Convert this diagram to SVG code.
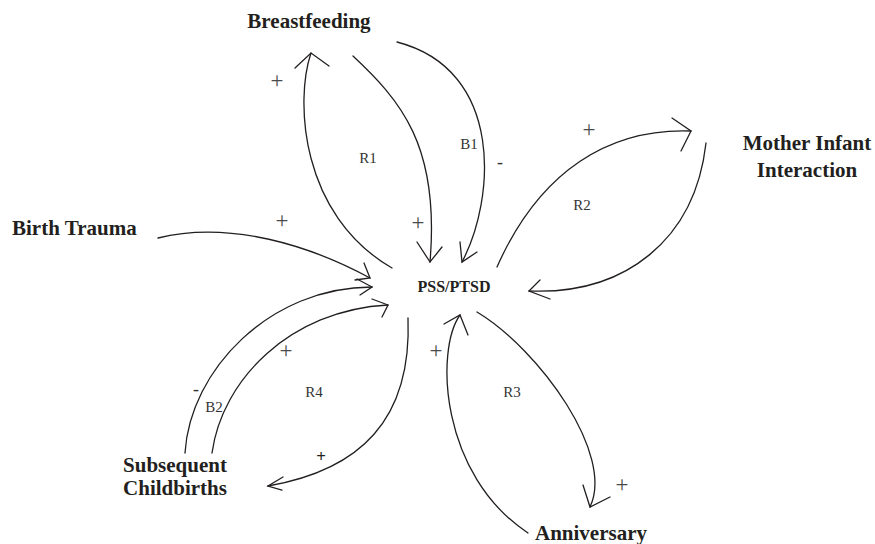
<svg xmlns="http://www.w3.org/2000/svg" width="875" height="544" viewBox="0 0 875 544">
<style>
.link{fill:none;stroke:#231f20;stroke-width:1.3;stroke-linecap:round}
.head{fill:none;stroke:#231f20;stroke-width:1.3;stroke-linecap:round;stroke-linejoin:miter}
.node{font-family:"Liberation Serif","Times New Roman",serif;font-weight:bold;font-size:21px;fill:#231f20}
.core{font-family:"Liberation Serif","Times New Roman",serif;font-weight:bold;font-size:16px;fill:#231f20}
.loop{font-family:"Liberation Serif","Times New Roman",serif;font-size:15px;fill:#333}
.pol{font-family:"Liberation Serif","Times New Roman",serif;font-size:23px;fill:#4a4a4a}
.neg{font-family:"Liberation Serif","Times New Roman",serif;font-size:18px;fill:#333}
</style>
<rect width="875" height="544" fill="#fff"/>
<g id="connectors">
  <path class="link" d="M353,56 C400,100 440,145 430,262"/>
  <polyline class="head" points="417,242 430,262 442,247"/>
  <path class="link" d="M392,268 C300,215 295,100 311,53"/>
  <polyline class="head" points="295,68 311,53 329,66"/>
  <path class="link" d="M397,42 C505,70 495,200 462,262"/>
  <polyline class="head" points="460,242 462,262 477,252"/>
  <path class="link" d="M497,267 C540,170 610,128 691,131"/>
  <polyline class="head" points="672,118 691,131 681,151"/>
  <path class="link" d="M706,143 C695,240 625,295 529,291"/>
  <polyline class="head" points="540,280 529,291 550,299"/>
  <path class="link" d="M158,238 C230,220 311,246 370,278"/>
  <polyline class="head" points="364,263 370,278 355,280"/>
  <path class="link" d="M185,453 C190,370 270,287 372,287"/>
  <polyline class="head" points="357,279 372,287 360,295"/>
  <path class="link" d="M212,453 C222,380 290,310 388,305"/>
  <polyline class="head" points="372,299 388,305 382,317"/>
  <path class="link" d="M408,318 C412,420 360,470 268,486"/>
  <polyline class="head" points="283,477 268,486 282,490"/>
  <path class="link" d="M477,312 C540,350 615,455 590,507"/>
  <polyline class="head" points="583,485 590,507 610,497"/>
  <path class="link" d="M528,533 C440,475 435,350 460,315"/>
  <polyline class="head" points="444,324 460,315 468,335"/>
</g>
<g id="labels">
  <text class="pol" x="277" y="88" text-anchor="middle">+</text>
  <text class="pol" x="418" y="230" text-anchor="middle">+</text>
  <text class="pol" x="282" y="228" text-anchor="middle">+</text>
  <text class="pol" x="589" y="137" text-anchor="middle">+</text>
  <text class="pol" x="436" y="358" text-anchor="middle">+</text>
  <text class="pol" x="622" y="492" text-anchor="middle">+</text>
  <text class="pol" x="286" y="358" text-anchor="middle">+</text>
  <text class="pol" x="321" y="462" text-anchor="middle" style="font-size:17px;font-weight:bold;fill:#231f20">+</text>
  <text class="neg" x="500" y="168" text-anchor="middle">-</text>
  <text class="neg" x="196" y="395" text-anchor="middle">-</text>
  <text class="loop" x="368" y="163" text-anchor="middle">R1</text>
  <text class="loop" x="469" y="149" text-anchor="middle">B1</text>
  <text class="loop" x="582" y="210" text-anchor="middle">R2</text>
  <text class="loop" x="512" y="397" text-anchor="middle">R3</text>
  <text class="loop" x="314" y="397" text-anchor="middle">R4</text>
  <text class="loop" x="214" y="412" text-anchor="middle">B2</text>
</g>
<g id="node-breastfeeding"><text class="node" x="309" y="28" text-anchor="middle">Breastfeeding</text></g>
<g id="node-birth-trauma"><text class="node" x="12" y="235">Birth Trauma</text></g>
<g id="node-mother-infant"><text class="node" x="807" y="150" text-anchor="middle">Mother Infant</text><text class="node" x="807" y="177" text-anchor="middle">Interaction</text></g>
<g id="node-subsequent"><text class="node" x="175" y="472" text-anchor="middle">Subsequent</text><text class="node" x="175" y="495" text-anchor="middle">Childbirths</text></g>
<g id="node-anniversary"><text class="node" x="591" y="540" text-anchor="middle">Anniversary</text></g>
<g id="node-pss"><text class="core" x="454" y="292" text-anchor="middle">PSS/PTSD</text></g>
</svg>
